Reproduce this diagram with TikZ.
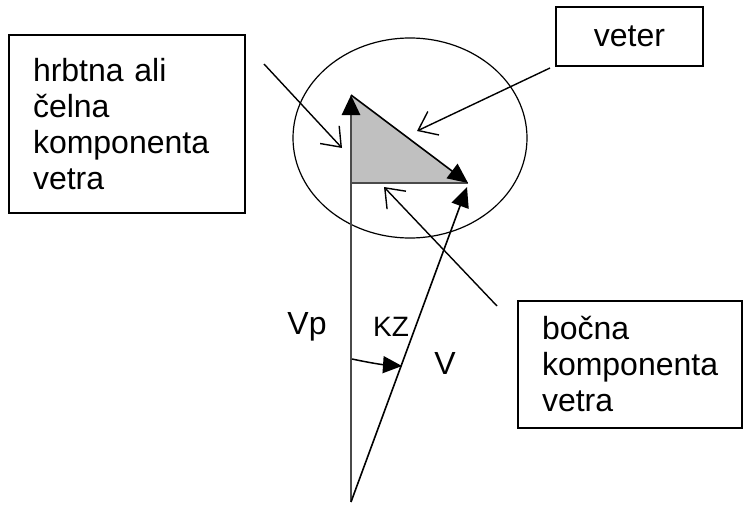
\documentclass[tikz,border=0pt]{standalone}
\usepackage{fontspec}
\setmainfont{Liberation Sans}
\usepackage{tikz}
\usetikzlibrary{shapes.geometric, arrows.meta, positioning, calc}
\definecolor{sidegray}{HTML}{4A4A4A}
\definecolor{trifill}{HTML}{C0C0C0}

\begin{document}
\begin{tikzpicture}[x=1pt, y=-1pt,
    labelbox/.style={rectangle, draw=black, line width=1.3pt, fill=white, align=left, inner xsep=24pt, font=\fontsize{32}{36}\selectfont},
    pointer/.style={-{Straight Barb[length=17pt, width=26pt]}, black, line width=1.4pt},
    vec/.style={-{Triangle[length=20pt, width=18pt, color=black]}, line width=1.6pt},
    lbl/.style={font=\fontsize{32}{36}\selectfont}
]
\useasboundingbox (0,0) rectangle (753,506);

% Wind circle and component triangle
\node[ellipse, draw, line width=1.2pt, minimum width=234pt, minimum height=200pt, inner sep=0pt] (krog) at (410,138) {};
\coordinate (dno) at (351,502);
\coordinate (vrh) at (351,95);
\coordinate (kot) at (351,183);
\coordinate (konec) at (468,183);
\coordinate (vkonec) at (467,187);
\fill[trifill] (vrh) -- (kot) -- (konec) -- cycle;

% Boxes
\node[labelbox, minimum width=236pt, minimum height=178pt, text width=188pt] (celna) at (127,124) {hrbtna ali\\čelna\\komponenta\\vetra};
\node[labelbox, minimum width=147pt, minimum height=59pt, align=center, inner xsep=0pt] (veter) at (629.5,36.5) {veter};
\node[labelbox, minimum width=224pt, minimum height=127pt, text width=176pt] (bocna) at (630,364.5) {bočna\\komponenta\\vetra};

% Vectors
\draw[vec, draw=sidegray, line width=2.8pt] (dno) -- (vrh);
\draw[sidegray, line width=2.8pt] (kot) -- (konec);
\draw[vec] (vrh) -- (konec);
\draw[vec] (dno) -- (vkonec);

% Course angle
\coordinate (kz1) at (352,359);
\coordinate (kz2) at (402,366);
\draw[vec, line width=1.5pt, -{Triangle[length=19pt, width=17pt]}] (kz1) to[bend right=4] (kz2);

% Pointers from the boxes
\coordinate (p1) at (264,64);
\coordinate (t1) at (342,148);
\coordinate (p2) at (550,68);
\coordinate (t2) at (417,131);
\coordinate (p3) at (497,306);
\coordinate (t3) at (384,187);
\draw[pointer] (p1) -- (t1);
\draw[pointer] (p2) -- (t2);
\draw[pointer] (p3) -- (t3);

% Labels
\node[lbl] (vp) at (307,327) {Vp};
\node[lbl, font=\fontsize{28}{32}\selectfont] (kz) at (391,327) {KZ};
\node[lbl] (v) at (445,363) {V};
\end{tikzpicture}
\end{document}
